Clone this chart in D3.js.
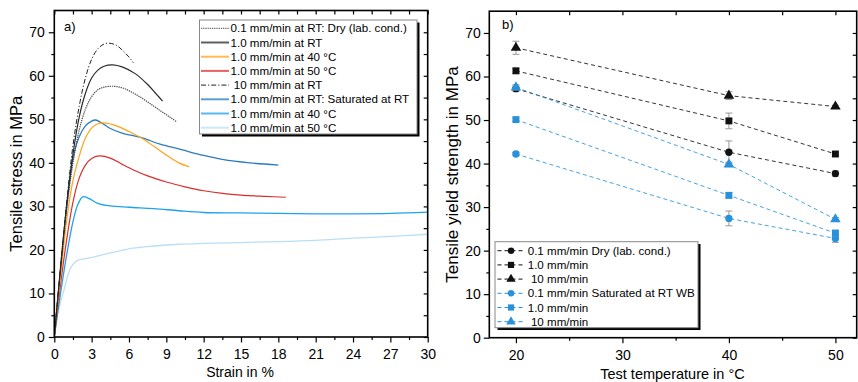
<!DOCTYPE html>
<html>
<head>
<meta charset="utf-8">
<script src="https://cdn.jsdelivr.net/npm/d3@7"></script>
<style>
  html, body { margin: 0; padding: 0; background: #fff; }
  svg { display: block; font-family: "Liberation Sans", Arial, sans-serif; }
</style>
</head>
<body>
<svg id="chart" width="858" height="382"></svg>
<script>
// ---- Panel a: stress-strain curves (strain %, stress MPa) ----
const dry01RT = [[0,0],[0.5,15.5],[1,29.5],[1.5,40],[2,47.5],[2.5,52.3],[3,55.2],[3.5,56.8],[4,57.4],[4.7,57.6],[5.5,57.2],[6.5,55.8],[7.5,54],[8.5,52],[9.3,50.5],[9.8,49.5]];
const dry10RT = [[0,0],[0.5,16],[1,30.5],[1.5,42],[2,50.5],[2.5,56],[3,59.5],[3.5,61.3],[4,62.2],[4.7,62.5],[5.5,62],[6.5,60.5],[7.5,58],[8.2,55.8],[8.7,54.2]];
const dry10_40 = [[0,0],[0.5,14],[1,27],[1.5,36],[2,41.5],[2.5,45.7],[3,48],[3.5,49],[4,49.2],[5,48.5],[6,47.2],[7,45.7],[8,43.8],[9,41.8],[10,40],[10.85,39.1]];
const dry10_50 = [[0,0],[0.5,12],[1,22.5],[1.5,31],[2,36.5],[2.5,39.5],[3,41],[3.6,41.6],[4.5,41.1],[5.5,39.6],[6.5,38.2],[7.5,37],[9,35.6],[10.5,34.5],[12,33.6],[13.5,33],[15,32.6],[17,32.3],[18.6,32.1]];
const dry100RT = [[0,0],[0.5,16],[1,31],[1.5,44],[2,53],[2.5,59.5],[3,63.8],[3.5,66.2],[4,67.3],[4.4,67.5],[5,67],[5.5,65.8],[6,64.3],[6.35,63]];
const sat10RT = [[0,0],[0.5,15],[1,30],[1.5,41],[2,46],[2.5,48.5],[3,49.6],[3.3,49.85],[3.8,49.2],[4.5,47.9],[5.5,46.8],[7,45.8],[8.5,44.3],[10,43.2],[12,41.7],[13.5,40.8],[15.7,40],[18,39.5]];
const sat10_40 = [[0,0],[0.5,10],[1,19],[1.5,26.5],[1.9,30.5],[2.3,32.2],[2.8,31.8],[3.5,30.7],[4.5,30.1],[6,29.8],[8,29.5],[10,29],[12,28.6],[15,28.5],[18,28.4],[21,28.3],[24,28.3],[27,28.4],[30,28.7]];
const sat10_50 = [[0,0],[0.25,5],[0.5,8],[0.8,11],[1.1,14.3],[1.4,16.3],[1.8,17.5],[2.5,18],[3.2,18.4],[4,19],[5,19.6],[6.3,20.4],[8,20.9],[10,21.3],[12,21.5],[15,21.7],[18,21.9],[21,22.2],[24,22.7],[27,23.1],[30,23.6]];

const curveLabels = ["0.1 mm/min at RT: Dry (lab. cond.)", "1.0 mm/min at RT", "1.0 mm/min at 40 °C", "1.0 mm/min at 50 °C",
  " 10 mm/min at RT", "1.0 mm/min at RT: Saturated at RT", "1.0 mm/min at 40 °C", "1.0 mm/min at 50 °C"];

// ---- Panel b: tensile yield strength vs test temperature ----
const temps = [20, 40, 50];
const dry01 = [57.2, 42.6, 37.7];
const dry01Err = [0.6, 2.6, 0.6];
const dry10 = [61.3, 49.8, 42.2];
const dry10Err = [0.6, 1.8, 0.5];
const dry100 = [66.6, 55.6, 53.1];
const dry100Err = [1.5, 0.9, 0.3];
const sat01 = [42.2, 27.4, 22.8];
const sat01Err = [0.4, 1.7, 0.9];
const sat10 = [50.1, 32.7, 24.0];
const sat10Err = [0.4, 0.6, 0.7];
const sat100 = [57.5, 39.8, 27.2];
const sat100Err = [0.6, 0.5, 0.4];
const yieldLabels = ["0.1 mm/min Dry (lab. cond.)", "1.0 mm/min", " 10 mm/min", "0.1 mm/min Saturated at RT WB", "1.0 mm/min", " 10 mm/min"];

const strainTicks = [0, 3, 6, 9, 12, 15, 18, 21, 24, 27, 30];
const stressTicks = [0, 10, 20, 30, 40, 50, 60, 70];
const tempTicks = [20, 30, 40, 50];

const svg = d3.select("#chart");

// Framed plot box: outward ticks on bottom/left, inward mirrored ticks on top/right
function frame(g, x, y, xMajor, xMinor, yMajor, yMinor, xPad, yPad) {
  const [x0, x1] = x.range();
  const [y0, y1] = y.range();
  const axisColor = "#000";
  g.append("g").attr("transform", `translate(0,${y0})`)
    .call(d3.axisBottom(x).tickValues(xMinor).tickSize(3).tickFormat(""));
  g.append("g").attr("transform", `translate(0,${y0})`)
    .call(d3.axisBottom(x).tickValues(xMajor).tickSize(5.5).tickPadding(xPad).tickFormat(d3.format("d")));
  g.append("g").attr("transform", `translate(0,${y1})`)
    .call(d3.axisBottom(x).tickValues(xMajor.concat(xMinor)).tickSize(4).tickFormat(""));
  g.append("g").attr("transform", `translate(${x0},0)`)
    .call(d3.axisLeft(y).tickValues(yMinor).tickSize(3).tickFormat(""));
  g.append("g").attr("transform", `translate(${x0},0)`)
    .call(d3.axisLeft(y).tickValues(yMajor).tickSize(5.5).tickPadding(yPad));
  g.append("g").attr("transform", `translate(${x1},0)`)
    .call(d3.axisRight(y).tickValues(yMajor.concat(yMinor)).tickSize(-4).tickFormat(""));
  g.selectAll(".domain").remove();
  g.selectAll(".tick line").attr("stroke", axisColor).attr("stroke-width", 1.2);
  g.selectAll(".tick text").attr("font-size", 14).attr("fill", "#000")
    .attr("font-family", "'Liberation Sans', Arial, sans-serif");
  g.append("rect").attr("x", x0).attr("y", y1).attr("width", x1 - x0).attr("height", y0 - y1)
    .attr("fill", "none").attr("stroke", axisColor).attr("stroke-width", 1.6);
}

// ---------- Panel a ----------
const xA = d3.scaleLinear().domain([0, 30]).range([54.3, 427.7]);
const yA = d3.scaleLinear().domain([0, 75]).range([337, 10.5]);
const gA = svg.append("g");

const strainMinor = d3.range(1.5, 30, 3);
const stressMinor = d3.range(5, 75, 10);

const curves = [
  { data: dry01RT, color: "#4a4a4a", width: 1.2, dash: "1.3,0.9" },
  { data: dry10RT, color: "#2a2a2a", width: 1.2, dash: null },
  { data: dry10_40, color: "#ffa31a", width: 1.2, dash: null },
  { data: dry10_50, color: "#dd2c2c", width: 1.2, dash: null },
  { data: dry100RT, color: "#222", width: 1, dash: "5,2,1.2,2" },
  { data: sat10RT, color: "#2b7cbd", width: 1.3, dash: null },
  { data: sat10_40, color: "#1fa1f0", width: 1.3, dash: null },
  { data: sat10_50, color: "#b9dff8", width: 1.3, dash: null }
];

const lineA = d3.line().x(d => xA(d[0])).y(d => yA(d[1])).curve(d3.curveCatmullRom.alpha(0.5));
gA.append("clipPath").attr("id", "clipA").append("rect")
  .attr("x", xA(0)).attr("y", yA(75)).attr("width", xA(30) - xA(0)).attr("height", yA(0) - yA(75));
// lightest curves first so the dry curves stay on top in the elastic region
const order = [7, 6, 5, 3, 2, 0, 1, 4];
gA.append("g").attr("clip-path", "url(#clipA)").selectAll("path").data(order.map(i => curves[i])).join("path")
  .attr("d", c => lineA(c.data)).attr("fill", "none")
  .attr("stroke", c => c.color).attr("stroke-width", c => c.width)
  .attr("stroke-dasharray", c => c.dash);

frame(gA, xA, yA, strainTicks, strainMinor, stressTicks, stressMinor, 6.5, 4);

gA.append("text").attr("x", 64).attr("y", 31).attr("font-size", 13).text("a)");
gA.append("text").attr("x", xA(15) - 1).attr("y", 377).attr("text-anchor", "middle")
  .attr("font-size", 14).text("Strain in %");
gA.append("text").attr("transform", `translate(21.5,${(yA(0) + yA(75)) / 2}) rotate(-90)`)
  .attr("text-anchor", "middle").attr("font-size", 16.5).text("Tensile stress in MPa");

// legend a
const legA = gA.append("g");
legA.append("rect").attr("x", 202).attr("y", 22.5).attr("width", 217.5).attr("height", 114).attr("fill", "#000");
legA.append("rect").attr("x", 199.5).attr("y", 20).attr("width", 217.5).attr("height", 114)
  .attr("fill", "#fff").attr("stroke", "#888").attr("stroke-width", 1);
curves.forEach((c, i) => {
  const yy = 28.3 + i * 14.2;
  legA.append("line").attr("x1", 201).attr("x2", 229).attr("y1", yy).attr("y2", yy)
    .attr("stroke", c.color).attr("stroke-width", c.dash ? 1 : 2)
    .attr("stroke-opacity", c.dash ? 1 : 0.75)
    .attr("stroke-dasharray", c.dash);
  legA.append("text").attr("x", 230.5).attr("y", yy + 4).attr("font-size", 11.6)
    .attr("xml:space", "preserve").text(curveLabels[i]);
});

// ---------- Panel b ----------
const xB = d3.scaleLinear().domain([17.5, 52]).range([489.3, 856.7]);
const yB = d3.scaleLinear().domain([0, 75]).range([337.7, 11.2]);
const gB = svg.append("g");

const black = "#111";
const blue = "#2891dc";
const seriesB = [
  { vals: dry01, err: dry01Err, color: black, shape: "circle" },
  { vals: dry10, err: dry10Err, color: black, shape: "square" },
  { vals: dry100, err: dry100Err, color: black, shape: "triangle" },
  { vals: sat01, err: sat01Err, color: blue, shape: "circle" },
  { vals: sat10, err: sat10Err, color: blue, shape: "square" },
  { vals: sat100, err: sat100Err, color: blue, shape: "triangle" }
];
const symbolOf = { circle: d3.symbolCircle, square: d3.symbolSquare, triangle: d3.symbolTriangle };
const sizeOf = { circle: 42, square: 48, triangle: 48 };

const lineB = d3.line().x(d => xB(d[0])).y(d => yB(d[1]));
seriesB.forEach(s => {
  const pts = temps.map((t, i) => [t, s.vals[i], s.err[i]]);
  const g = gB.append("g");
  g.append("path").attr("d", lineB(pts)).attr("fill", "none").attr("stroke", s.color)
    .attr("stroke-width", 1).attr("stroke-dasharray", "4,3").attr("stroke-opacity", 0.85);
  pts.forEach(p => {
    const px = xB(p[0]), top = yB(p[1] + p[2]), bot = yB(p[1] - p[2]);
    g.append("line").attr("x1", px).attr("x2", px).attr("y1", top).attr("y2", bot)
      .attr("stroke", "#999").attr("stroke-width", 1);
    [top, bot].forEach(yy => g.append("line").attr("x1", px - 3.5).attr("x2", px + 3.5)
      .attr("y1", yy).attr("y2", yy).attr("stroke", "#999").attr("stroke-width", 1));
  });
  g.selectAll("path.m").data(pts).join("path").attr("class", "m")
    .attr("transform", p => `translate(${xB(p[0])},${yB(p[1])})`)
    .attr("d", d3.symbol().type(symbolOf[s.shape]).size(sizeOf[s.shape]))
    .attr("fill", s.color);
});

frame(gB, xB, yB, tempTicks, [25, 35, 45], stressTicks, stressMinor, 7, 3);

gB.append("text").attr("x", 502).attr("y", 29).attr("font-size", 13).text("b)");
gB.append("text").attr("x", xB(34.7)).attr("y", 379).attr("text-anchor", "middle")
  .attr("font-size", 14.5).text("Test temperature in °C");
gB.append("text").attr("transform", `translate(457.5,${(yB(0) + yB(75)) / 2}) rotate(-90)`)
  .attr("text-anchor", "middle").attr("font-size", 17).text("Tensile yield strength in MPa");

// legend b
const legB = gB.append("g");
legB.append("rect").attr("x", 497.5).attr("y", 244).attr("width", 203).attr("height", 86).attr("fill", "#000");
legB.append("rect").attr("x", 495).attr("y", 241.7).attr("width", 203).attr("height", 86)
  .attr("fill", "#fff").attr("stroke", "#888").attr("stroke-width", 1);
seriesB.forEach((s, i) => {
  const yy = 250.7 + i * 14.2;
  legB.append("line").attr("x1", 497.5).attr("x2", 525).attr("y1", yy).attr("y2", yy)
    .attr("stroke", s.color).attr("stroke-width", 1).attr("stroke-dasharray", "4,3");
  legB.append("path").attr("transform", `translate(511,${yy})`)
    .attr("d", d3.symbol().type(symbolOf[s.shape]).size(sizeOf[s.shape] * 0.8))
    .attr("fill", s.color);
  legB.append("text").attr("x", 527.7).attr("y", yy + 4).attr("font-size", 11.6)
    .attr("xml:space", "preserve").text(yieldLabels[i]);
});
</script>
</body>
</html>
